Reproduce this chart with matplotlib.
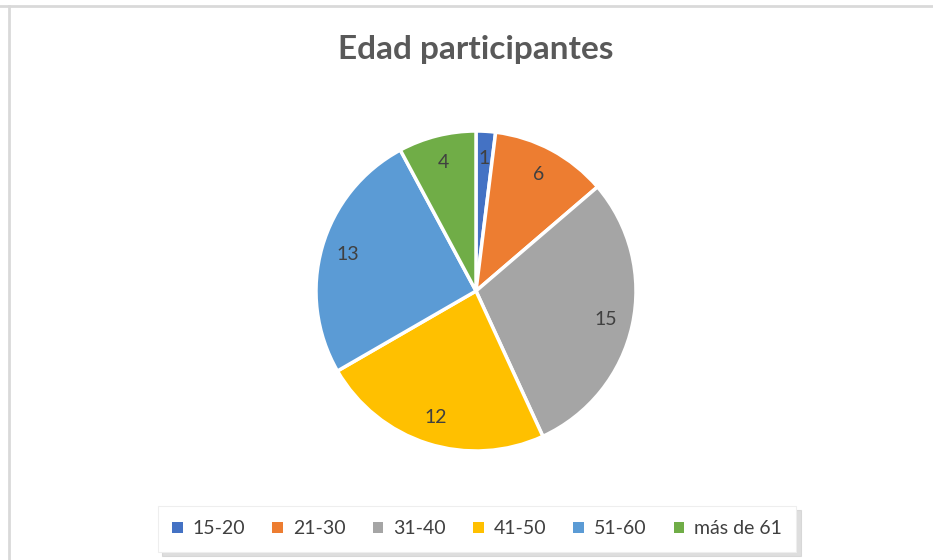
import matplotlib.pyplot as plt
from matplotlib.patches import Patch
from matplotlib.lines import Line2D

# data
categories = ["15-20", "21-30", "31-40", "41-50", "51-60", "más de 61"]
counts = [1, 6, 15, 12, 13, 4]
colors = ["#4472C4", "#ED7D31", "#A5A5A5", "#FFC000", "#5B9BD5", "#70AD47"]

plt.rcParams['font.family'] = ['Lato', 'DejaVu Sans']

W, H = 933, 560
fig = plt.figure(figsize=(W / 100, H / 100), dpi=100, facecolor='white')

# chart border (top + left visible)
fig.add_artist(Line2D([0, 1], [1 - 5.5 / H, 1 - 5.5 / H], color='#D9D9D9', lw=2, transform=fig.transFigure))
fig.add_artist(Line2D([8.5 / W, 8.5 / W], [0, 1 - 5.5 / H], color='#D9D9D9', lw=2, transform=fig.transFigure))

fig.text(476 / W, 1 - 50 / H, "Edad participantes", ha='center', va='center',
         fontsize=24, fontweight='bold', color='#595959')

# pie
cx, cy, r = 476, 291, 160
ax = fig.add_axes([(cx - r) / W, (H - cy - r) / H, 2 * r / W, 2 * r / H])
wedges, texts = ax.pie(counts, colors=colors, startangle=90, counterclock=False,
                       labels=[str(c) for c in counts], labeldistance=0.83,
                       wedgeprops=dict(edgecolor='white', linewidth=2.5),
                       textprops=dict(fontsize=14, color='#404040'))
for t in texts:
    t.set_ha('center')
    t.set_va('center')
ax.set_xlim(-1, 1)
ax.set_ylim(-1, 1)
ax.set_aspect('equal')

# legend
handles = [Patch(facecolor=c, edgecolor='none') for c in colors]
leg = fig.legend(handles, categories, loc='center', ncol=6,
                 bbox_to_anchor=(477 / W, 1 - 529 / H),
                 frameon=True, fancybox=False, shadow={'color': '#C8C8C8', 'alpha': 0.6, 'ox': 3, 'oy': -3},
                 fontsize=14, handlelength=0.55, handleheight=0.55, handletextpad=0.5,
                 columnspacing=1.4, borderpad=0.75, labelcolor='#404040')
leg.get_frame().set_edgecolor('#EEEEEE')
leg.get_frame().set_linewidth(0.8)

fig.savefig('out.png', dpi=100, facecolor='white')
